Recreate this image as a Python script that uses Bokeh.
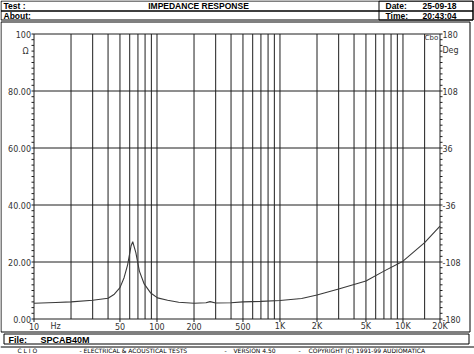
import math
from bokeh.plotting import figure
from bokeh.models import Range1d, LinearScale
from bokeh.core.properties import value
from bokeh.embed import file_html
from bokeh.resources import INLINE

# ---------------- data ----------------
freqs = [10, 15, 20, 30, 40, 45, 50, 54, 57.7, 61.5, 63.5, 67.3, 71.9, 78.7, 89, 101,
         122, 150, 200, 250, 270, 300, 400, 500, 700, 1000, 1500, 2000, 3000, 5000,
         7000, 10000, 15000, 20000]
imped = [5.5, 5.8, 6.0, 6.6, 7.3, 8.7, 11.0, 14.5, 19.0, 25.6, 27.1, 23.3, 16.8, 12.3, 9.1, 7.4,
         6.6, 5.9, 5.5, 5.7, 6.1, 5.6, 5.7, 6.0, 6.2, 6.5, 7.2, 8.4, 10.5, 13.3,
         16.8, 20.3, 26.8, 32.6]

x_tick_vals = [10, 50, 100, 200, 500, 1000, 2000, 5000, 10000, 20000]
x_tick_labels = ["10", "50", "100", "200", "500", "1K", "2K", "5K", "10K", "20K"]
grid_freqs = [20, 30, 40, 50, 60, 70, 80, 90, 100, 200, 300, 400, 500, 600, 700, 800, 900,
              1000, 2000, 3000, 4000, 5000, 6000, 7000, 8000, 9000, 10000, 15000]
y_ticks = [0, 20, 40, 60, 80, 100]
y_labels = ["0.00", "20.00", "40.00", "60.00", "80.00", "100"]
y_grid = [20, 40, 60, 80]
y_minor = list(range(0, 101, 2))
deg_ticks = [-180, -108, -36, 36, 108, 180]
deg_labels = ["-180", "-108", "-36", "36", "108", "180"]
deg_minor = [-180 + 7.2 * i for i in range(51)]

F_MIN, F_MAX = 10, 20000
Z_MIN, Z_MAX = 0, 100
D_MIN, D_MAX = -180, 180

# ---------------- layout (pixels) ----------------
W, H = 474, 354
FL, FR, FT, FB = 33.5, 439.5, 33.5, 318.5   # plot area edges

k = (FR - FL) / math.log10(F_MAX / F_MIN)          # px per decade
L0 = math.log10(F_MIN) - FL / k
L1 = L0 + W / k
pz = (FB - FT) / (Z_MAX - Z_MIN)                   # px per ohm
z0 = Z_MIN - (H - FB) / pz
z1 = Z_MAX + FT / pz
dpo = (D_MAX - D_MIN) / (Z_MAX - Z_MIN)
d0 = D_MIN + (z0 - Z_MIN) * dpo
d1 = D_MIN + (z1 - Z_MIN) * dpo

LINE = "#1e1e1e"
FONT = "DejaVu Sans"
HFONT = "Liberation Sans"

p = figure(width=W, height=H, x_axis_type="log",
           x_range=Range1d(10 ** L0, 10 ** L1), y_range=Range1d(z0, z1),
           x_axis_location=None, y_axis_location=None,
           toolbar_location=None, output_backend="svg", min_border=0)
p.outline_line_color = None
p.grid.visible = False
p.background_fill_color = "white"
p.border_fill_color = "white"
p.extra_x_ranges = {"px": Range1d(0, W)}
p.extra_x_scales = {"px": LinearScale()}
p.extra_y_ranges = {"px": Range1d(H, 0), "deg": Range1d(d0, d1)}
p.extra_y_scales = {"px": LinearScale(), "deg": LinearScale()}

PX = dict(x_range_name="px", y_range_name="px")


def txt(x, y, t, size="8px", bold=False, align="left", font=FONT, baseline="middle",
        color="black", **kw):
    p.text(x=x, y=y, text=t, text_font=value(font), text_font_size=value(size),
           text_font_style="bold" if bold else "normal", text_align=align,
           text_baseline=baseline, text_color=color, **kw)


# ---------------- grid & frame ----------------
p.segment(x0=grid_freqs, x1=grid_freqs, y0=Z_MIN, y1=Z_MAX, line_color=LINE, line_width=1)
p.segment(x0=F_MIN, x1=F_MAX, y0=y_grid, y1=y_grid, line_color=LINE, line_width=1)
p.quad(left=F_MIN, right=F_MAX, bottom=Z_MIN, top=Z_MAX, fill_color=None,
       line_color=LINE, line_width=1)

# ticks
p.segment(x0=FL - 2.5, x1=FL, y0=y_minor, y1=y_minor, x_range_name="px",
          line_color=LINE, line_width=1)
p.segment(x0=FR, x1=FR + 2.5, y0=deg_minor, y1=deg_minor, x_range_name="px",
          y_range_name="deg", line_color=LINE, line_width=1)
p.segment(x0=x_tick_vals, x1=x_tick_vals, y0=FB, y1=FB + 3, y_range_name="px",
          line_color=LINE, line_width=1)

# tick labels
txt([FL - 3] * len(y_ticks), y_ticks, y_labels, "8px", align="right",
    color="#333333", x_range_name="px")
txt([FR + 2.5] * len(deg_ticks), deg_ticks, deg_labels, "8px", align="left",
    color="#333333", x_range_name="px", y_range_name="deg")
txt(x_tick_vals, [FB + 7] * len(x_tick_vals), x_tick_labels, "8px", align="center",
    color="#333333", y_range_name="px")

# unit labels
txt([25], [51], ["Ω"], "8px", align="center", color="#333333", **PX)
txt([450], [50], ["Deg"], "8px", align="center", color="#333333", **PX)
txt([55], [325.5], ["Hz"], "8px", align="center", color="#333333", **PX)
txt([431], [37], ["Cbo"], "7px", align="center", color="#333333", **PX)

# ---------------- curve ----------------
p.line(freqs, imped, line_color="#3a3a3a", line_width=1.1)

# ---------------- header / footer boxes ----------------
p.quad(left=[0.5, 0.5, 378.5, 0.5, 3.5], right=[472.5, 472.5, 472.5, 469.5, 468.5],
       top=[0.5, 10.5, 0.5, 21.5, 333.5], bottom=[10.5, 19.5, 19.5, 331.5, 343.5],
       fill_color=None, line_color="black", line_width=1, **PX)
p.segment(x0=[0], x1=[W], y0=[346.5], y1=[346.5], line_color="black", line_width=1, **PX)

txt([3, 3], [5.5, 15], ["Test :", "About:"], "8.5px", True, font=HFONT,
    baseline="alphabetic", **PX)
txt([198], [5.5], ["IMPEDANCE RESPONSE"], "8.5px", True, "center", font=HFONT,
    baseline="alphabetic", **PX)
txt([385, 385], [5.5, 15], ["Date:", "Time:"], "8.5px", True, font=HFONT,
    baseline="alphabetic", **PX)
txt([422, 422], [5.5, 15], ["25-09-18", "20:43:04"], "8.5px", True, font=HFONT,
    baseline="alphabetic", **PX)
txt([8, 40], [339.5, 339.5], ["File:", "SPCAB40M"], "9px", True, font=HFONT,
    baseline="alphabetic", **PX)

footer_x = [17, 79, 83, 224, 233, 298, 308]
footer_t = ["C L I O", "-", "ELECTRICAL & ACOUSTICAL TESTS", "-", "VERSION 4.50", "-",
            "COPYRIGHT (C) 1991-99 AUDIOMATICA"]
txt(footer_x, [349.5] * len(footer_x), footer_t, "6px", font=FONT,
    baseline="alphabetic", **PX)

open("out.html", "w").write(file_html(p, INLINE))
